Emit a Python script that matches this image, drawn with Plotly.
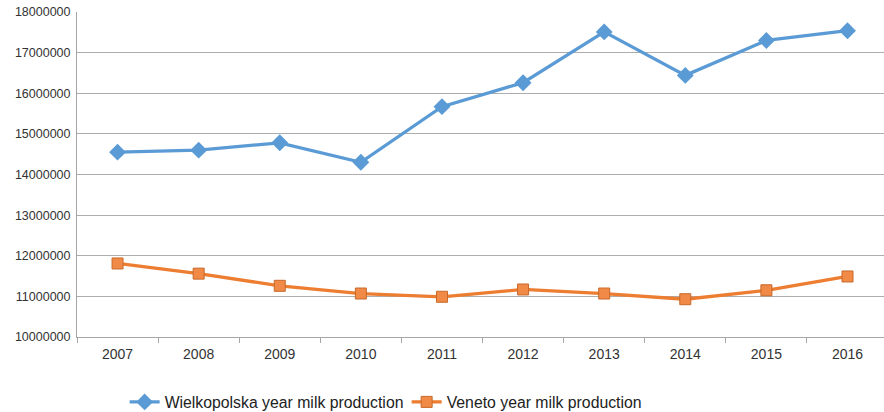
import plotly.graph_objects as go

years = ["2007", "2008", "2009", "2010", "2011", "2012", "2013", "2014", "2015", "2016"]
wielkopolska = [14550000, 14600000, 14780000, 14300000, 15670000, 16260000, 17510000, 16440000, 17300000, 17540000]
veneto = [11810000, 11560000, 11260000, 11070000, 10990000, 11170000, 11070000, 10930000, 11150000, 11490000]

blue = "#5B9BD5"
orange = "#ED7D31"

fig = go.Figure()
fig.add_trace(go.Scatter(
    x=years, y=wielkopolska, mode="lines+markers",
    name="Wielkopolska year milk production",
    line=dict(color=blue, width=3.3),
    marker=dict(symbol="diamond", size=13, color=blue),
))
fig.add_trace(go.Scatter(
    x=years, y=veneto, mode="lines+markers",
    name="Veneto year milk production",
    line=dict(color=orange, width=3.3),
    marker=dict(symbol="square", size=11, color="#F08A46", line=dict(color="#C8682A", width=1)),
))

fig.update_layout(
    width=884, height=412,
    margin=dict(l=77, r=0, t=12, b=75),
    paper_bgcolor="white", plot_bgcolor="white",
    font=dict(family="Liberation Sans, Arial, sans-serif", color="#404040"),
    showlegend=True,
    legend=dict(orientation="h", xref="container", yref="container",
                x=0.141, xanchor="left", y=0.024, yanchor="middle",
                font=dict(size=15.8, color="#222222"), itemwidth=30, tracegroupgap=0,
                entrywidthmode="pixels", entrywidth=237),
    xaxis=dict(
        type="category", showgrid=False, tickson="boundaries", automargin=False,
        range=[-0.5, 9.45],
        ticks="outside", ticklen=5, tickcolor="#A6A6A6",
        showline=True, linecolor="#A6A6A6", linewidth=1,
        tickfont=dict(size=14, color="#333333"), ticklabelstandoff=4,
    ),
    yaxis=dict(
        range=[10000000, 18000000], dtick=1000000, tickformat="d", automargin=False,
        showgrid=True, gridcolor="#ADADAD", gridwidth=1,
        showline=True, linecolor="#A6A6A6", linewidth=1,
        ticks="", tickfont=dict(size=12.5, color="#333333"), ticklabelstandoff=3,
        zeroline=False,
    ),
)

fig.write_html("out.html", config={"displayModeBar": False},
               post_script="document.body.style.margin='0';")
